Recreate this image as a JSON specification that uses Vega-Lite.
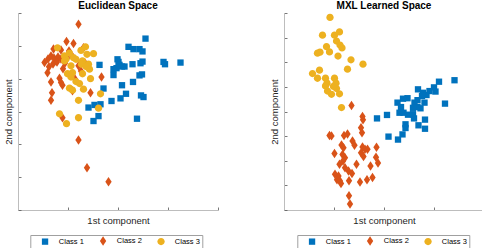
{
 "$schema": "https://vega.github.io/schema/vega-lite/v6.json",
 "padding": {"left": 3, "top": 0, "right": 0, "bottom": 0},
 "spacing": 50,
 "datasets": {
  "left": [
   {"x":2.55,"y":5.22,"c":"Class 1"},{"x":2.21,"y":4.97,"c":"Class 1"},{"x":2.31,"y":4.90,"c":"Class 1"},{"x":2.43,"y":4.90,"c":"Class 1"},{"x":2.49,"y":4.83,"c":"Class 1"},{"x":1.63,"y":4.42,"c":"Class 1"},{"x":1.99,"y":4.59,"c":"Class 1"},{"x":2.01,"y":4.51,"c":"Class 1"},{"x":2.03,"y":4.42,"c":"Class 1"},{"x":1.97,"y":4.32,"c":"Class 1"},{"x":1.91,"y":4.29,"c":"Class 1"},{"x":2.08,"y":4.37,"c":"Class 1"},{"x":2.13,"y":4.37,"c":"Class 1"},{"x":2.29,"y":4.44,"c":"Class 1"},{"x":2.45,"y":4.47,"c":"Class 1"},{"x":2.49,"y":4.52,"c":"Class 1"},{"x":2.91,"y":4.51,"c":"Class 1"},{"x":2.94,"y":4.44,"c":"Class 1"},{"x":3.25,"y":4.49,"c":"Class 1"},{"x":1.91,"y":4.11,"c":"Class 1"},{"x":2.43,"y":4.10,"c":"Class 1"},{"x":2.48,"y":4.13,"c":"Class 1"},{"x":2.30,"y":3.90,"c":"Class 1"},{"x":2.08,"y":3.80,"c":"Class 1"},{"x":1.71,"y":3.70,"c":"Class 1"},{"x":2.16,"y":3.54,"c":"Class 1"},{"x":2.05,"y":3.40,"c":"Class 1"},{"x":1.87,"y":3.32,"c":"Class 1"},{"x":2.46,"y":3.49,"c":"Class 1"},{"x":2.51,"y":3.44,"c":"Class 1"},{"x":1.65,"y":3.22,"c":"Class 1"},{"x":1.53,"y":3.20,"c":"Class 1"},{"x":1.41,"y":3.12,"c":"Class 1"},{"x":1.61,"y":2.86,"c":"Class 1"},{"x":1.51,"y":2.71,"c":"Class 1"},{"x":2.38,"y":2.78,"c":"Class 1"},
   {"x":1.21,"y":5.66,"c":"Class 2"},{"x":0.97,"y":5.13,"c":"Class 2"},{"x":1.11,"y":5.07,"c":"Class 2"},{"x":0.71,"y":4.90,"c":"Class 2"},{"x":1.31,"y":4.94,"c":"Class 2"},{"x":1.02,"y":4.84,"c":"Class 2"},{"x":0.86,"y":4.87,"c":"Class 2"},{"x":0.53,"y":4.49,"c":"Class 2"},{"x":0.60,"y":4.60,"c":"Class 2"},{"x":0.66,"y":4.69,"c":"Class 2"},{"x":0.72,"y":4.63,"c":"Class 2"},{"x":0.76,"y":4.54,"c":"Class 2"},{"x":0.80,"y":4.66,"c":"Class 2"},{"x":0.70,"y":4.45,"c":"Class 2"},{"x":0.62,"y":4.36,"c":"Class 2"},{"x":0.59,"y":4.18,"c":"Class 2"},{"x":0.78,"y":4.51,"c":"Class 2"},{"x":0.86,"y":4.60,"c":"Class 2"},{"x":1.06,"y":4.74,"c":"Class 2"},{"x":0.90,"y":4.30,"c":"Class 2"},{"x":0.94,"y":4.48,"c":"Class 2"},{"x":1.21,"y":4.39,"c":"Class 2"},{"x":1.26,"y":4.23,"c":"Class 2"},{"x":1.67,"y":4.05,"c":"Class 2"},{"x":0.83,"y":4.01,"c":"Class 2"},{"x":0.86,"y":3.88,"c":"Class 2"},{"x":0.89,"y":3.80,"c":"Class 2"},{"x":1.09,"y":3.63,"c":"Class 2"},{"x":1.45,"y":3.57,"c":"Class 2"},{"x":0.66,"y":3.90,"c":"Class 2"},{"x":0.68,"y":3.57,"c":"Class 2"},{"x":0.66,"y":3.34,"c":"Class 2"},{"x":0.89,"y":2.81,"c":"Class 2"},{"x":1.21,"y":2.13,"c":"Class 2"},{"x":1.38,"y":1.29,"c":"Class 2"},{"x":1.81,"y":0.86,"c":"Class 2"},{"x":1.14,"y":3.99,"c":"Class 2"},{"x":1.34,"y":4.48,"c":"Class 2"},{"x":0.98,"y":4.63,"c":"Class 2"},
   {"x":0.79,"y":4.94,"c":"Class 3"},{"x":0.93,"y":4.69,"c":"Class 3"},{"x":0.96,"y":4.59,"c":"Class 3"},{"x":1.03,"y":4.78,"c":"Class 3"},{"x":1.26,"y":4.86,"c":"Class 3"},{"x":1.35,"y":4.97,"c":"Class 3"},{"x":1.38,"y":4.74,"c":"Class 3"},{"x":1.51,"y":4.76,"c":"Class 3"},{"x":1.11,"y":4.64,"c":"Class 3"},{"x":1.16,"y":4.59,"c":"Class 3"},{"x":1.29,"y":4.54,"c":"Class 3"},{"x":1.27,"y":4.44,"c":"Class 3"},{"x":1.41,"y":4.44,"c":"Class 3"},{"x":1.06,"y":4.39,"c":"Class 3"},{"x":1.36,"y":4.37,"c":"Class 3"},{"x":0.99,"y":4.15,"c":"Class 3"},{"x":1.09,"y":4.18,"c":"Class 3"},{"x":1.29,"y":4.15,"c":"Class 3"},{"x":1.45,"y":4.00,"c":"Class 3"},{"x":1.16,"y":3.91,"c":"Class 3"},{"x":1.23,"y":3.85,"c":"Class 3"},{"x":1.03,"y":3.71,"c":"Class 3"},{"x":1.09,"y":3.65,"c":"Class 3"},{"x":1.31,"y":3.68,"c":"Class 3"},{"x":1.65,"y":3.54,"c":"Class 3"},{"x":1.21,"y":3.34,"c":"Class 3"},{"x":1.61,"y":3.10,"c":"Class 3"},{"x":0.83,"y":2.93,"c":"Class 3"},{"x":0.97,"y":2.63,"c":"Class 3"},{"x":1.21,"y":2.81,"c":"Class 3"},{"x":0.93,"y":4.54,"c":"Class 3"},{"x":1.06,"y":4.05,"c":"Class 3"},{"x":1.43,"y":4.29,"c":"Class 3"}
  ],
  "right": [
   {"x":3.41,"y":5.27,"c":"Class 1"},{"x":3.10,"y":5.21,"c":"Class 1"},{"x":3.00,"y":4.98,"c":"Class 1"},{"x":3.03,"y":4.81,"c":"Class 1"},{"x":2.91,"y":4.83,"c":"Class 1"},{"x":2.68,"y":4.90,"c":"Class 1"},{"x":2.78,"y":4.76,"c":"Class 1"},{"x":2.85,"y":4.67,"c":"Class 1"},{"x":2.76,"y":4.63,"c":"Class 1"},{"x":2.47,"y":4.54,"c":"Class 1"},{"x":2.38,"y":4.52,"c":"Class 1"},{"x":2.67,"y":4.46,"c":"Class 1"},{"x":2.61,"y":4.36,"c":"Class 1"},{"x":2.81,"y":4.36,"c":"Class 1"},{"x":2.27,"y":4.36,"c":"Class 1"},{"x":2.34,"y":4.18,"c":"Class 1"},{"x":3.22,"y":4.32,"c":"Class 1"},{"x":2.67,"y":4.18,"c":"Class 1"},{"x":2.73,"y":4.13,"c":"Class 1"},{"x":2.58,"y":4.15,"c":"Class 1"},{"x":2.31,"y":3.95,"c":"Class 1"},{"x":2.39,"y":3.95,"c":"Class 1"},{"x":2.48,"y":3.87,"c":"Class 1"},{"x":2.58,"y":3.89,"c":"Class 1"},{"x":2.60,"y":3.72,"c":"Class 1"},{"x":2.06,"y":3.86,"c":"Class 1"},{"x":1.86,"y":3.72,"c":"Class 1"},{"x":2.82,"y":3.67,"c":"Class 1"},{"x":2.43,"y":3.48,"c":"Class 1"},{"x":2.43,"y":3.33,"c":"Class 1"},{"x":2.69,"y":3.44,"c":"Class 1"},{"x":2.82,"y":3.30,"c":"Class 1"},{"x":2.37,"y":3.07,"c":"Class 1"},{"x":2.09,"y":2.98,"c":"Class 1"},{"x":2.28,"y":2.86,"c":"Class 1"},
   {"x":1.35,"y":4.24,"c":"Class 2"},{"x":1.57,"y":3.80,"c":"Class 2"},{"x":1.58,"y":3.66,"c":"Class 2"},{"x":1.54,"y":3.34,"c":"Class 2"},{"x":1.56,"y":3.14,"c":"Class 2"},{"x":0.91,"y":3.03,"c":"Class 2"},{"x":0.95,"y":3.01,"c":"Class 2"},{"x":1.20,"y":3.03,"c":"Class 2"},{"x":1.27,"y":3.09,"c":"Class 2"},{"x":1.37,"y":2.80,"c":"Class 2"},{"x":1.41,"y":2.63,"c":"Class 2"},{"x":1.15,"y":2.64,"c":"Class 2"},{"x":1.19,"y":2.53,"c":"Class 2"},{"x":1.57,"y":2.56,"c":"Class 2"},{"x":1.62,"y":2.47,"c":"Class 2"},{"x":1.67,"y":2.47,"c":"Class 2"},{"x":1.85,"y":2.55,"c":"Class 2"},{"x":1.01,"y":2.29,"c":"Class 2"},{"x":1.17,"y":2.25,"c":"Class 2"},{"x":1.22,"y":2.12,"c":"Class 2"},{"x":1.18,"y":1.99,"c":"Class 2"},{"x":1.54,"y":2.32,"c":"Class 2"},{"x":1.59,"y":2.17,"c":"Class 2"},{"x":1.84,"y":2.14,"c":"Class 2"},{"x":1.88,"y":1.91,"c":"Class 2"},{"x":1.11,"y":1.86,"c":"Class 2"},{"x":1.22,"y":1.72,"c":"Class 2"},{"x":1.45,"y":1.86,"c":"Class 2"},{"x":1.73,"y":1.79,"c":"Class 2"},{"x":1.29,"y":1.58,"c":"Class 2"},{"x":1.36,"y":1.48,"c":"Class 2"},{"x":1.02,"y":1.45,"c":"Class 2"},{"x":1.09,"y":1.38,"c":"Class 2"},{"x":1.06,"y":1.23,"c":"Class 2"},{"x":1.12,"y":1.18,"c":"Class 2"},{"x":1.14,"y":1.08,"c":"Class 2"},{"x":1.30,"y":1.19,"c":"Class 2"},{"x":1.52,"y":1.14,"c":"Class 2"},{"x":1.66,"y":1.23,"c":"Class 2"},{"x":1.77,"y":1.32,"c":"Class 2"},{"x":1.30,"y":0.58,"c":"Class 2"},{"x":1.32,"y":0.24,"c":"Class 2"},
   {"x":0.92,"y":7.82,"c":"Class 3"},{"x":0.77,"y":7.10,"c":"Class 3"},{"x":1.01,"y":7.10,"c":"Class 3"},{"x":1.11,"y":7.23,"c":"Class 3"},{"x":1.05,"y":6.86,"c":"Class 3"},{"x":1.12,"y":6.70,"c":"Class 3"},{"x":1.16,"y":6.58,"c":"Class 3"},{"x":0.85,"y":6.63,"c":"Class 3"},{"x":0.91,"y":6.42,"c":"Class 3"},{"x":0.67,"y":6.37,"c":"Class 3"},{"x":0.72,"y":6.41,"c":"Class 3"},{"x":1.08,"y":6.25,"c":"Class 3"},{"x":1.34,"y":6.10,"c":"Class 3"},{"x":1.58,"y":5.92,"c":"Class 3"},{"x":1.27,"y":5.72,"c":"Class 3"},{"x":0.57,"y":5.54,"c":"Class 3"},{"x":0.71,"y":5.68,"c":"Class 3"},{"x":0.67,"y":5.35,"c":"Class 3"},{"x":0.83,"y":5.35,"c":"Class 3"},{"x":1.01,"y":5.35,"c":"Class 3"},{"x":0.86,"y":5.15,"c":"Class 3"},{"x":1.04,"y":5.15,"c":"Class 3"},{"x":0.83,"y":5.04,"c":"Class 3"},{"x":0.99,"y":5.02,"c":"Class 3"},{"x":0.87,"y":4.83,"c":"Class 3"},{"x":0.95,"y":4.70,"c":"Class 3"},{"x":1.11,"y":4.72,"c":"Class 3"},{"x":1.15,"y":4.16,"c":"Class 3"},{"x":1.05,"y":4.93,"c":"Class 3"}
  ]
 },
 "hconcat": [
  {
   "width": 200, "height": 197,
   "data": {"name": "left"},
   "title": {"text": "Euclidean Space"},
   "mark": {"type": "point", "filled": true, "opacity": 1, "size": 40},
   "encoding": {
    "x": {"field": "x", "type": "quantitative", "scale": {"domain": [0, 4], "nice": false, "zero": false}, "axis": {"values": [0, 1, 2, 3, 4], "title": "1st component"}},
    "y": {"field": "y", "type": "quantitative", "scale": {"domain": [0, 6], "nice": false, "zero": false}, "axis": {"values": [0, 1, 2, 3, 4, 5, 6], "title": "2nd component"}},
    "color": {"field": "c", "type": "nominal", "scale": {"domain": ["Class 1", "Class 2", "Class 3"], "range": ["#0072BD", "#D95319", "#EDB120"]}, "legend": {"orient": "none", "legendX": 12.3, "legendY": 222, "direction": "horizontal", "columns": 3, "title": "\u00a0"}},
    "shape": {"field": "c", "type": "nominal", "scale": {"domain": ["Class 1", "Class 2", "Class 3"], "range": ["square", "M0,-1.5L1,0L0,1.5L-1,0Z", "M1.15,0A1.15,1.15,0,1,1,-1.15,0A1.15,1.15,0,1,1,1.15,0Z"]}, "legend": {"orient": "none", "legendX": 12.3, "legendY": 222, "direction": "horizontal", "columns": 3, "title": "\u00a0"}}
   }
  },
  {
   "width": 200, "height": 197,
   "data": {"name": "right"},
   "title": {"text": "MXL Learned Space"},
   "mark": {"type": "point", "filled": true, "opacity": 1, "size": 40},
   "encoding": {
    "x": {"field": "x", "type": "quantitative", "scale": {"domain": [0, 4], "nice": false, "zero": false}, "axis": {"values": [0, 1, 2, 3, 4], "title": "1st component"}},
    "y": {"field": "y", "type": "quantitative", "scale": {"domain": [0, 8], "nice": false, "zero": false}, "axis": {"values": [0, 1, 2, 3, 4, 5, 6, 7, 8], "title": "2nd component"}},
    "color": {"field": "c", "type": "nominal", "scale": {"domain": ["Class 1", "Class 2", "Class 3"], "range": ["#0072BD", "#D95319", "#EDB120"]}, "legend": {"orient": "none", "legendX": 13.3, "legendY": 222, "direction": "horizontal", "columns": 3, "title": "\u00a0"}},
    "shape": {"field": "c", "type": "nominal", "scale": {"domain": ["Class 1", "Class 2", "Class 3"], "range": ["square", "M0,-1.5L1,0L0,1.5L-1,0Z", "M1.15,0A1.15,1.15,0,1,1,-1.15,0A1.15,1.15,0,1,1,1.15,0Z"]}, "legend": {"orient": "none", "legendX": 13.3, "legendY": 222, "direction": "horizontal", "columns": 3, "title": "\u00a0"}}
   }
  }
 ],
 "resolve": {"legend": {"color": "independent", "shape": "independent"}},
 "config": {
  "view": {"stroke": null},
  "font": "Liberation Sans",
  "axis": {"labels": false, "grid": false, "tickSize": -3, "tickColor": "#555555", "tickWidth": 0.8, "domainColor": "#bdbdbd", "domainWidth": 1, "titleFont": "Liberation Sans", "titleFontSize": 9.5, "titleFontWeight": "normal", "titleColor": "#262626", "titlePadding": 4},
  "axisX": {"titlePadding": 5},
  "legend": {"padding": 2, "strokeColor": "#a0a0a0", "fillColor": "white", "labelFont": "Liberation Sans", "labelFontSize": 7.5, "labelColor": "#000000", "labelOffset": 10, "columnPadding": 15, "symbolSize": 40, "symbolStrokeWidth": 0, "titleOrient": "left", "titlePadding": 9, "titleFontSize": 7.5},
  "title": {"font": "Liberation Sans", "fontSize": 10, "fontWeight": "bold", "offset": 2, "frame": "group", "anchor": "middle", "color": "#000000"}
 }
}
